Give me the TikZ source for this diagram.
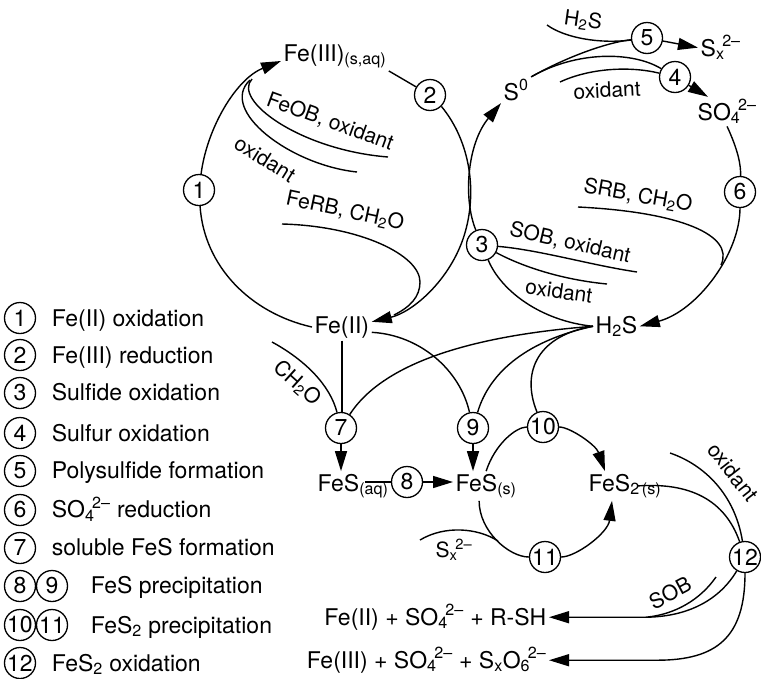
\documentclass[tikz,border=0pt]{standalone}
\usepackage{fontspec}
\setmainfont{TeX Gyre Heros}
\usetikzlibrary{arrows.meta}
\newcommand{\chg}[2]{\textsubscript{#1}\kern-0.1em\textsuperscript{#2}}
\begin{document}
\begin{tikzpicture}[yscale=-1,x=1pt,y=1pt,line width=1.4pt,
    >={Triangle[length=20pt,width=12pt]},
    every node/.style={font=\fontsize{23}{27}\selectfont,inner sep=2pt},
    rxn/.style={circle,draw,line width=1.3pt,inner sep=0pt,minimum size=31pt},
    lbl/.style={font=\fontsize{21}{25}\selectfont}]

    \useasboundingbox (0,0) rectangle (761,678);

    \node[rxn] (l1) at (20,318) {1};
    \node[anchor=base west] at ([xshift=13pt]l1.base east) {Fe(II) oxidation};
    \node[rxn] (l2) at (20,355) {2};
    \node[anchor=base west] at ([xshift=13pt]l2.base east) {Fe(III) reduction};
    \node[rxn] (l3) at (20,393) {3};
    \node[anchor=base west] at ([xshift=13pt]l3.base east) {Sulfide oxidation};
    \node[rxn] (l4) at (20,433) {4};
    \node[anchor=base west] at ([xshift=13pt]l4.base east) {Sulfur oxidation};
    \node[rxn] (l5) at (20,471) {5};
    \node[anchor=base west] at ([xshift=13pt]l5.base east) {Polysulfide formation};
    \node[rxn] (l6) at (20,510) {6};
    \node[anchor=base west] at ([xshift=13pt]l6.base east) {SO\chg{4}{2\textendash} reduction};
    \node[rxn] (l7) at (20,548) {7};
    \node[anchor=base west] at ([xshift=13pt]l7.base east) {soluble FeS formation};
    \node[rxn] (l8) at (20,586) {8};
    \node[rxn] (l9) at (52,586) {9};
    \node[anchor=base west] at ([xshift=20pt]l9.base east) {FeS precipitation};
    \node[rxn] (l10) at (20,625) {10};
    \node[rxn] (l11) at (52,625) {11};
    \node[anchor=base west] at ([xshift=20pt]l11.base east) {FeS\textsubscript{2} precipitation};
    \node[rxn] (l12) at (20,663) {12};
    \node[anchor=base west] at ([xshift=13pt]l12.base east) {FeS\textsubscript{2} oxidation};

    \node[anchor=base west] (fe3) at (281,61) {Fe(III)\textsubscript{(s,aq)}};
    \node[anchor=base west] (fe2) at (312,333) {Fe(II)};
    \node[anchor=base west] (s0) at (501,100) {S\textsuperscript{0}};
    \node[anchor=base west] (sx) at (698,56) {S\chg{x}{2\textendash}};
    \node[anchor=base west] (so4) at (695,120) {SO\chg{4}{2\textendash}};
    \node[anchor=base west] (h2s) at (593,333) {H\textsubscript{2}S};
    \node[anchor=base west] (fesaq) at (315,491) {FeS\textsubscript{(aq)}};
    \node[anchor=base west] (fess) at (453,491) {FeS\textsubscript{(s)}};
    \node[anchor=base west] (fes2) at (586,491) {FeS\textsubscript{2\,(s)}};
    \node[anchor=base east] (prod1) at (549,625) {Fe(II) + SO\chg{4}{2\textendash} + R-SH};
    \node[anchor=base east] (prod2) at (549,668) {Fe(III) + SO\chg{4}{2\textendash} + S\textsubscript{x}O\chg{6}{2\textendash}};

    \node[rxn] (n1) at (199,190) {1};
    \node[rxn] (n2) at (430,95) {2};
    \node[rxn] (n3) at (482,245) {3};
    \node[rxn] (n4) at (675,77) {4};
    \node[rxn] (n5) at (647,38) {5};
    \node[rxn] (n6) at (740,192) {6};
    \node[rxn] (n7) at (341,428) {7};
    \node[rxn] (n8) at (407,482) {8};
    \node[rxn] (n9) at (473,428) {9};
    \node[rxn] (n10) at (543,427) {10};
    \node[rxn] (n11) at (545,557) {11};
    \node[rxn] (n12) at (745,557) {12};

    \coordinate (feob) at (388,157);
    \coordinate (feobjoin) at (252,79);
    \coordinate (oxa) at (357,172);
    \coordinate (oxajoin) at (250,80);
    \coordinate (ferb) at (282,224);
    \coordinate (ferbjoin) at (394,315);
    \coordinate (sobox) at (637,272);
    \coordinate (oxb) at (607,284);
    \coordinate (oxc) at (560,82);
    \coordinate (hs) at (547,25);
    \coordinate (srb) at (578,207);
    \coordinate (srbjoin) at (721,265);
    \coordinate (ch) at (272,342);
    \coordinate (sxin) at (420,540);
    \coordinate (sxjoin) at (498,541);
    \coordinate (oxd) at (670,453);
    \coordinate (sob) at (716,577);
    \coordinate (sobjoin) at (648,617);

    \draw (fe2.west) .. controls (250,313) and (204,266) .. (n1);
    \draw[->] (n1) .. controls (207,128) and (236,79) .. (fe3.base west);
    \draw (fe3.south east) -- (n2);
    \draw[->] (n2.south east) .. controls (470,141) and (478,192) .. (464,236) .. controls (450,280) and (413,312) .. (fe2.10);
    \draw (feob) .. controls (300,150) and (232,100) .. (feobjoin);
    \draw (oxa) .. controls (290,165) and (218,110) .. (oxajoin);
    \draw (ferb) .. controls (360,226) and (420,255) .. (420,282) .. controls (420,297) and (410,307) .. (ferbjoin);
    \node[lbl,rotate=-20] at (330,122) {FeOB, oxidant};
    \node[lbl,rotate=-32] at (265,159) {oxidant};
    \node[lbl,rotate=-12] at (345,211) {FeRB, CH\textsubscript{2}O};

    \draw (h2s.west) .. controls (541,321) and (501,291) .. (n3);
    \draw[->] (n3) .. controls (463,199) and (467,144) .. (s0.south west);
    \draw (n3) .. controls (540,250) and (590,265) .. (sobox);
    \draw (n3) .. controls (525,268) and (565,280) .. (oxb);
    \node[lbl,rotate=-13] at (570,243) {SOB, oxidant};
    \node[lbl,rotate=-8] at (559,291) {oxidant};

    \draw (s0.north east) .. controls (570,55) and (610,42) .. (n5);
    \draw (s0.north east) .. controls (576,51) and (632,51) .. (n4);
    \draw (oxc) .. controls (590,68) and (630,66) .. (n4);
    \node[lbl,rotate=3] at (607,90) {oxidant};
    \draw (hs) .. controls (565,38) and (600,44) .. (n5);
    \node[lbl,rotate=-8] at (583,21) {H\textsubscript{2}S};
    \draw[->] (n5) -- (sx.west);
    \draw[->] (n4) -- ([xshift=13pt]so4.north west);
    \draw (so4.south) .. controls (738,150) and (741,165) .. (n6);
    \draw[->] (n6) .. controls (740,254) and (697,311) .. (h2s.east);
    \draw (srb) .. controls (680,212) and (735,235) .. (srbjoin);
    \node[lbl,rotate=-10] at (638,196) {SRB, CH\textsubscript{2}O};

    \draw (fe2.south) -- (fe2.south |- n7.north);
    \draw[->] (n7) -- (n7 |- fesaq.north);
    \draw (ch) .. controls (305,360) and (330,385) .. (n7);
    \node[lbl,rotate=-42] at (297,383) {CH\textsubscript{2}O};
    \draw (h2s.west) .. controls (480,335) and (385,360) .. (n7);
    \draw (fe2.-10) .. controls (420,335) and (460,370) .. (n9);
    \draw (h2s.west) .. controls (530,340) and (490,370) .. (n9);
    \draw (h2s.west) .. controls (540,335) and (520,370) .. (n10);
    \draw[->] (n9) -- (n9 |- fess.north);
    \draw (n8) -- ([xshift=-26pt]n8.west);
    \draw[->] (n8) -- (n8 -| fess.west);

    \draw (fess.north) .. controls (495,444) and (516,427) .. (n10);
    \draw[->] (n10) .. controls (570,427) and (596,445) .. ([xshift=19pt]fes2.north west);
    \draw ([xshift=-7pt]fess.south) .. controls (479,531) and (509,557) .. (n11);
    \draw[->] (n11) .. controls (576,557) and (608,533) .. ([xshift=26pt]fes2.south west);
    \draw (sxin) .. controls (445,525) and (478,528) .. (sxjoin);
    \node[lbl,anchor=base west] at (433,557) {S\chg{x}{2\textendash}};

    \draw ([xshift=-27pt]fes2.east) .. controls (690,482) and (725,500) .. (n12);
    \draw (oxd) .. controls (705,465) and (735,495) .. (n12);
    \node[lbl,rotate=-52] at (733,472) {oxidant};
    \draw[->] (n12) .. controls +(-25,42) and +(45,0) .. ([xshift=95pt]prod1.east) -- (prod1.east);
    \draw (sob) .. controls (700,600) and (675,614) .. (sobjoin);
    \node[lbl,rotate=28] at (670,593) {SOB};
    \draw[->] (n12) .. controls +(0,80) and +(60,0) .. ([xshift=108pt]prod2.east) -- (prod2.east);
\end{tikzpicture}
\end{document}
